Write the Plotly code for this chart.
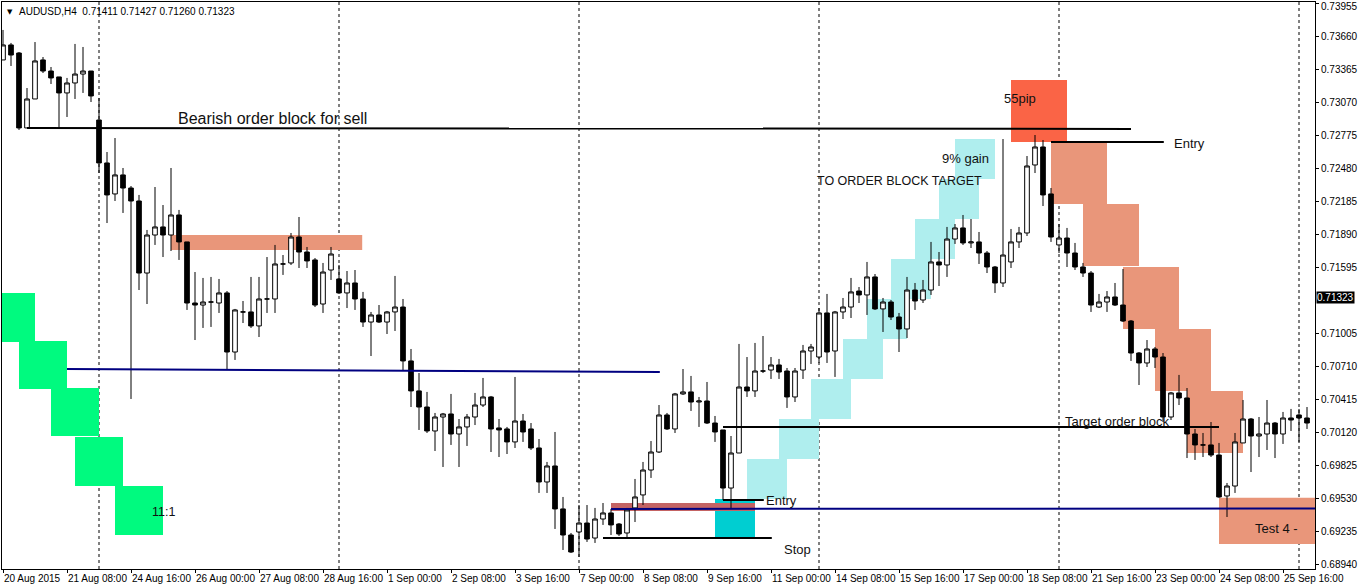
import plotly.graph_objects as go

# ---------------- data (AUDUSD H4 bars) ----------------
bar_index = list(range(164))

open_ = [
    0.73450, 0.73584, 0.73512, 0.72842, 0.73101, 0.73450, 0.73351, 0.73298, 0.73155, 0.73244,
    0.73324, 0.73351, 0.72913, 0.72529, 0.72252, 0.72422, 0.72305, 0.72189, 0.71545, 0.71885,
    0.71957, 0.71885, 0.72064, 0.71823, 0.71277, 0.71259, 0.71286, 0.71277, 0.71367, 0.70839,
    0.71197, 0.71197, 0.71072, 0.71313, 0.71313, 0.71626, 0.71635, 0.71867, 0.71733, 0.71662,
    0.71268, 0.71572, 0.71492, 0.71367, 0.71456, 0.71313, 0.71107, 0.71170, 0.71107, 0.71197,
    0.71241, 0.70759, 0.70491, 0.70347, 0.70133, 0.70258, 0.70285, 0.70106, 0.70169, 0.70258,
    0.70365, 0.70437, 0.70160, 0.70151, 0.70035, 0.70222, 0.70151, 0.69981, 0.69677, 0.69820,
    0.69436, 0.69203, 0.69230, 0.69310, 0.69176, 0.69346, 0.69400, 0.69301, 0.69221, 0.69445,
    0.69561, 0.69784, 0.69945, 0.70276, 0.70151, 0.70464, 0.70482, 0.70392, 0.70401, 0.70204,
    0.70142, 0.69623, 0.69936, 0.70526, 0.70491, 0.70669, 0.70678, 0.70723, 0.70669, 0.70437,
    0.70678, 0.70848, 0.70794, 0.71188, 0.70848, 0.71197, 0.71241, 0.71384, 0.71349, 0.71510,
    0.71224, 0.71286, 0.71152, 0.71045, 0.71393, 0.71304, 0.71393, 0.71644, 0.71617, 0.71849,
    0.71948, 0.71814, 0.71823, 0.71724, 0.71599, 0.71456, 0.71644, 0.71823, 0.71903, 0.72511,
    0.72672, 0.72252, 0.71796, 0.71858, 0.71724, 0.71599, 0.71545, 0.71241, 0.71286, 0.71331,
    0.71259, 0.71116, 0.70830, 0.70741, 0.70866, 0.70794, 0.70258, 0.70473, 0.70428, 0.70106,
    0.70008, 0.70008, 0.69918, 0.69552, 0.69641, 0.70026, 0.70240, 0.70088, 0.70106, 0.70204,
    0.70106, 0.70249, 0.70276, 0.70249,
]
high = [
    0.73718, 0.73602, 0.73521, 0.73199, 0.73610, 0.73476, 0.73387, 0.73298, 0.73289, 0.73593,
    0.73566, 0.73351, 0.73110, 0.72627, 0.72752, 0.72484, 0.72323, 0.72243, 0.71930, 0.72314,
    0.72153, 0.72484, 0.72109, 0.71823, 0.71554, 0.71501, 0.71510, 0.71492, 0.71384, 0.71224,
    0.71295, 0.71510, 0.71510, 0.71688, 0.71796, 0.71706, 0.71903, 0.72046, 0.71778, 0.71679,
    0.71635, 0.71778, 0.71617, 0.71563, 0.71572, 0.71376, 0.71197, 0.71259, 0.71206, 0.71519,
    0.71313, 0.70866, 0.70651, 0.70482, 0.70294, 0.70294, 0.70464, 0.70240, 0.70285, 0.70473,
    0.70607, 0.70446, 0.70240, 0.70169, 0.70616, 0.70285, 0.70204, 0.70061, 0.69856, 0.70124,
    0.69543, 0.69221, 0.69471, 0.69471, 0.69445, 0.69489, 0.69436, 0.69310, 0.69445, 0.69704,
    0.69856, 0.70043, 0.70365, 0.70294, 0.70473, 0.70687, 0.70625, 0.70437, 0.70571, 0.70267,
    0.70142, 0.70088, 0.70911, 0.70794, 0.70920, 0.70982, 0.70794, 0.70777, 0.70696, 0.70696,
    0.70902, 0.70911, 0.71232, 0.71358, 0.71206, 0.71322, 0.71501, 0.71420, 0.71644, 0.71536,
    0.71322, 0.71304, 0.71188, 0.71510, 0.71456, 0.71483, 0.71823, 0.71733, 0.71957, 0.71983,
    0.72064, 0.72028, 0.71912, 0.71742, 0.71608, 0.72743, 0.71939, 0.71957, 0.72591, 0.72779,
    0.72734, 0.72305, 0.71983, 0.71948, 0.71814, 0.71635, 0.71563, 0.71358, 0.71384, 0.71456,
    0.71581, 0.71125, 0.70839, 0.70946, 0.70884, 0.70830, 0.70482, 0.70634, 0.70517, 0.70151,
    0.70115, 0.70213, 0.70026, 0.69668, 0.70115, 0.70410, 0.70249, 0.70258, 0.70410, 0.70213,
    0.70303, 0.70330, 0.70330, 0.70347,
]
low = [
    0.73450, 0.73396, 0.72824, 0.72842, 0.73101, 0.73333, 0.73235, 0.72842, 0.72940, 0.73101,
    0.73155, 0.73074, 0.72439, 0.71992, 0.72189, 0.72082, 0.70419, 0.71393, 0.71268, 0.71796,
    0.71688, 0.71742, 0.71662, 0.71215, 0.70946, 0.71054, 0.71063, 0.71188, 0.70687, 0.70768,
    0.71098, 0.71054, 0.70973, 0.71188, 0.71188, 0.71528, 0.71617, 0.71590, 0.71590, 0.71241,
    0.71188, 0.71483, 0.71358, 0.71232, 0.71215, 0.71063, 0.70803, 0.71098, 0.71000, 0.71027,
    0.70669, 0.70347, 0.70142, 0.70115, 0.69954, 0.69811, 0.70008, 0.69811, 0.69999, 0.70186,
    0.70347, 0.69945, 0.69900, 0.69927, 0.69981, 0.70035, 0.69963, 0.69579, 0.69579, 0.69257,
    0.69069, 0.69042, 0.69006, 0.69141, 0.69132, 0.69293, 0.69203, 0.69194, 0.69185, 0.69319,
    0.69471, 0.69713, 0.69936, 0.70142, 0.70115, 0.70455, 0.70312, 0.70169, 0.70195, 0.70035,
    0.69516, 0.69436, 0.69936, 0.70437, 0.70437, 0.70651, 0.70598, 0.70598, 0.70339, 0.70392,
    0.70598, 0.70732, 0.70741, 0.70741, 0.70616, 0.71134, 0.71143, 0.71277, 0.71170, 0.71215,
    0.71018, 0.71125, 0.70839, 0.70964, 0.71215, 0.71277, 0.71349, 0.71429, 0.71510, 0.71805,
    0.71796, 0.71769, 0.71626, 0.71545, 0.71367, 0.71420, 0.71590, 0.71769, 0.71876, 0.72439,
    0.72144, 0.71823, 0.71724, 0.71599, 0.71572, 0.71510, 0.71197, 0.71232, 0.71197, 0.71250,
    0.71107, 0.70759, 0.70544, 0.70705, 0.70696, 0.70213, 0.70231, 0.70365, 0.69891, 0.69874,
    0.69900, 0.69900, 0.69535, 0.69364, 0.69579, 0.70026, 0.69766, 0.69900, 0.69963, 0.69891,
    0.70017, 0.70133, 0.70035, 0.70151,
]
close = [
    0.73584, 0.73494, 0.72842, 0.73101, 0.73441, 0.73351, 0.73289, 0.73155, 0.73244, 0.73324,
    0.73351, 0.73128, 0.72529, 0.72243, 0.72422, 0.72305, 0.72189, 0.71545, 0.71885, 0.71957,
    0.71885, 0.72064, 0.71823, 0.71277, 0.71259, 0.71286, 0.71286, 0.71367, 0.70839, 0.71215,
    0.71197, 0.71072, 0.71313, 0.71313, 0.71626, 0.71626, 0.71867, 0.71733, 0.71653, 0.71259,
    0.71554, 0.71715, 0.71367, 0.71456, 0.71313, 0.71107, 0.71170, 0.71107, 0.71197, 0.71241,
    0.70759, 0.70491, 0.70347, 0.70133, 0.70258, 0.70285, 0.70106, 0.70169, 0.70258, 0.70365,
    0.70437, 0.70151, 0.70142, 0.70035, 0.70222, 0.70124, 0.69981, 0.69677, 0.69820, 0.69436,
    0.69203, 0.69051, 0.69310, 0.69167, 0.69346, 0.69400, 0.69293, 0.69212, 0.69427, 0.69543,
    0.69784, 0.69945, 0.70276, 0.70151, 0.70464, 0.70482, 0.70392, 0.70401, 0.70204, 0.70124,
    0.69623, 0.69936, 0.70526, 0.70491, 0.70669, 0.70669, 0.70723, 0.70660, 0.70437, 0.70669,
    0.70848, 0.70884, 0.71188, 0.70839, 0.71197, 0.71241, 0.71376, 0.71349, 0.71510, 0.71224,
    0.71286, 0.71152, 0.71045, 0.71393, 0.71295, 0.71393, 0.71644, 0.71617, 0.71849, 0.71948,
    0.71814, 0.71823, 0.71724, 0.71599, 0.71456, 0.71706, 0.71823, 0.71903, 0.72502, 0.72672,
    0.72243, 0.71867, 0.71858, 0.71724, 0.71599, 0.71545, 0.71259, 0.71286, 0.71331, 0.71259,
    0.71116, 0.70830, 0.70741, 0.70866, 0.70794, 0.70258, 0.70473, 0.70428, 0.70106, 0.70008,
    0.70008, 0.69918, 0.69543, 0.69641, 0.70035, 0.70240, 0.70088, 0.70106, 0.70204, 0.70106,
    0.70249, 0.70231, 0.70249, 0.70204,
]

# axis labels
price_ticks = [0.73955, 0.73660, 0.73365, 0.73070, 0.72775, 0.72480, 0.72185, 0.71890, 0.71595,
               0.71005, 0.70710, 0.70415, 0.70120, 0.69825, 0.69530, 0.69235, 0.68940]
current_price = 0.71323
date_tick_bars = [0, 8, 16, 24, 32, 40, 48, 56, 64, 72, 80, 88, 96, 104, 112, 120, 128, 136, 144, 152, 160]
date_tick_labels = ["20 Aug 2015", "21 Aug 08:00", "24 Aug 16:00", "26 Aug 00:00", "27 Aug 08:00",
                    "28 Aug 16:00", "1 Sep 00:00", "2 Sep 08:00", "3 Sep 16:00", "7 Sep 00:00",
                    "8 Sep 08:00", "9 Sep 16:00", "11 Sep 00:00", "14 Sep 08:00", "15 Sep 16:00",
                    "17 Sep 00:00", "18 Sep 08:00", "21 Sep 16:00", "23 Sep 00:00", "24 Sep 08:00",
                    "25 Sep 16:00"]
week_separators = [12, 42, 72, 102, 132, 162]
header_text = "AUDUSD,H4  0.71411 0.71427 0.71260 0.71323"

# drawn objects (bar index from/to, price from/to)
green_boxes = [(-2, 4, 0.70929, 0.71367), (2, 8, 0.70508, 0.70938), (6, 12, 0.70088, 0.70517),
               (9, 15, 0.69641, 0.70079), (14, 20, 0.69203, 0.69641)]
aqua_steps = [(93, 98, 0.69525, 0.69882), (97, 102, 0.69883, 0.70240), (101, 106, 0.70240, 0.70598),
              (105, 110, 0.70598, 0.70955), (108, 113, 0.70955, 0.71313), (111, 116, 0.71313, 0.71670),
              (114, 119, 0.71670, 0.72028), (117, 122, 0.72028, 0.72386), (119, 124, 0.72386, 0.72743)]
salmon_boxes = [(21, 44.9, 0.71751, 0.71885),
                (131, 138, 0.72162, 0.72717), (135, 142, 0.71608, 0.72162), (140, 147, 0.71045, 0.71599),
                (144, 151, 0.70491, 0.71045), (148, 155, 0.69936, 0.70491), (152, 164, 0.69123, 0.69535)]
tomato_box = (126, 133, 0.72717, 0.73271)
cyan_box = (89, 94, 0.69176, 0.69525)
rose_band = (76, 94, 0.69418, 0.69489)
black_lines = [(3, 0.72842, 141, 0.72833), (131, 0.72717, 145.1, 0.72717), (90, 0.70169, 152, 0.70169),
               (90, 0.69516, 95.1, 0.69516), (75, 0.69176, 96.1, 0.69176)]
navy_lines = [(8, 0.70687, 82.1, 0.70660), (76, 0.69436, 164, 0.69440)]
labels = [  # text, bar, price, anchor, size
    ("Bearish order block for sell", 21.6, 0.72931, "left", 16),
    ("11:1", 20.1, 0.69409, "center", 12.5),
    ("Entry", 95.1, 0.69507, "left", 13),
    ("Stop", 97.4, 0.69069, "left", 13),
    ("Target order block", 132.5, 0.70222, "left", 13),
    ("9% gain", 117.1, 0.72573, "left", 13),
    ("TO ORDER BLOCK TARGET", 101.5, 0.72368, "left", 12.5),
    ("55pip", 127.1, 0.73101, "center", 13),
    ("Entry", 146.1, 0.72699, "left", 13),
    ("Test 4 -", 156.25, 0.69257, "left", 13),
]

# ---------------- figure ----------------
fig = go.Figure()
fig.add_trace(go.Candlestick(
    x=bar_index, open=open_, high=high, low=low, close=close,
    increasing=dict(fillcolor="white", line=dict(color="black", width=1)),
    decreasing=dict(fillcolor="black", line=dict(color="black", width=1)),
    whiskerwidth=0, showlegend=False, hoverinfo="skip",
))

shapes = []
def rect(b, color):
    shapes.append(dict(type="rect", xref="x", yref="y", x0=b[0], x1=b[1], y0=b[2], y1=b[3],
                       fillcolor=color, line=dict(width=0), layer="below"))

for b in green_boxes:
    rect(b, "#00FA7F")
for b in aqua_steps:
    rect(b, "#AFEEEE")
for b in salmon_boxes:
    rect(b, "#E9967A")
rect(tomato_box, "#FA6446")
rect(cyan_box, "#00CED1")
rect(rose_band, "#C46464")

for s in week_separators:
    shapes.append(dict(type="line", xref="x", yref="paper", x0=s, x1=s, y0=0, y1=1,
                       line=dict(color="black", width=1, dash="3px,3px"), layer="below"))
for (x0, y0, x1, y1) in black_lines:
    shapes.append(dict(type="line", xref="x", yref="y", x0=x0, y0=y0, x1=x1, y1=y1,
                       line=dict(color="black", width=2), layer="above"))
for (x0, y0, x1, y1) in navy_lines:
    shapes.append(dict(type="line", xref="x", yref="y", x0=x0, y0=y0, x1=x1, y1=y1,
                       line=dict(color="#000080", width=2), layer="above"))

axis_font = dict(family="Liberation Sans, Arial", size=10, color="black")
annotations = []
for (t, bx, py, anc, sz) in labels:
    annotations.append(dict(text=t, x=bx, y=py, xref="x", yref="y", xanchor=anc, yanchor="middle",
                            showarrow=False, font=dict(family="Liberation Sans, Arial", size=sz, color="#111111")))
annotations.append(dict(text=f"{current_price:.5f}", x=1, y=current_price, xref="paper", yref="y",
                        xanchor="left", yanchor="middle", xshift=1, showarrow=False, bgcolor="black",
                        borderpad=0, font=dict(family="Liberation Sans, Arial", size=10, color="white")))
# top price label sits at the very edge; drawn a few pixels lower so it stays readable
annotations.append(dict(text=f"{price_ticks[0]:.5f}", x=1, y=price_ticks[0], xref="paper", yref="y",
                        xanchor="left", yanchor="middle", xshift=5, yshift=-3, showarrow=False,
                        borderpad=0, font=axis_font))
annotations.append(dict(text="▼", x=0, y=1, xref="paper", yref="paper", xanchor="left", yanchor="top",
                        xshift=3, yshift=-4, showarrow=False,
                        font=dict(family="DejaVu Sans", size=7, color="black")))
annotations.append(dict(text=header_text, x=0, y=1, xref="paper", yref="paper", xanchor="left",
                        yanchor="top", xshift=15, yshift=-2, showarrow=False,
                        font=dict(family="Liberation Sans, Arial", size=10, color="black")))

tick_text = [""] + [f"{v:.5f}" for v in price_ticks[1:]]

fig.update_layout(
    width=1358, height=586, autosize=False,
    margin=dict(l=2, r=43, t=2, b=17, pad=0),
    paper_bgcolor="white", plot_bgcolor="white",
    shapes=shapes, annotations=annotations,
    boxgap=0.42, boxgroupgap=0,
    hovermode=False,
    xaxis=dict(range=[-0.125, 164], showgrid=False, zeroline=False, rangeslider=dict(visible=False),
               tickmode="array", tickvals=date_tick_bars, ticktext=date_tick_labels,
               ticklabelposition="outside right", tickangle=0, automargin=False,
               ticklabeloverflow="allow",
               ticks="outside", ticklen=3, tickcolor="black",
               showline=True, linecolor="black", linewidth=1, mirror=True,
               tickfont=axis_font),
    yaxis=dict(range=[0.68899, 0.73968], side="right", showgrid=False, zeroline=False,
               tickmode="array", tickvals=price_ticks, ticktext=tick_text,
               ticks="outside", ticklen=3, tickcolor="black", automargin=False,
               ticklabeloverflow="allow",
               showline=True, linecolor="black", linewidth=1, mirror=True,
               tickfont=axis_font),
)

fig.write_html("out.html", config={"displayModeBar": False},
               post_script="document.body.style.margin='0';document.body.style.overflow='hidden';")
